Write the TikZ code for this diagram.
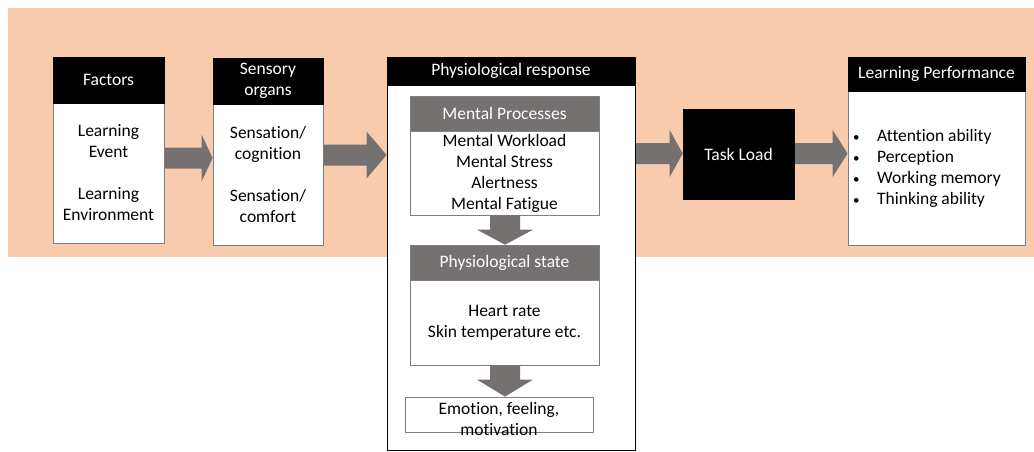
\documentclass[tikz,border=0pt]{standalone}
\usepackage{fontspec}
\setmainfont[Ligatures=NoCommon]{Carlito}
\usetikzlibrary{calc}
\pgfdeclarelayer{bg}
\pgfsetlayers{bg,main}
\definecolor{peach}{HTML}{F8CBAD}
\definecolor{dgray}{HTML}{767171}
\definecolor{edgegray}{HTML}{7F7F7F}
\newcommand\harrow[4]{\fill[fatarrow] let \p1=(#1.east), \p2=(#2.west) in
  (\x1,#3pt+10.5pt) -- (\x2-#4pt,#3pt+10.5pt) -- (\x2-#4pt,#3pt+23.5pt) -- (\x2,#3pt)
  -- (\x2-#4pt,#3pt-23.5pt) -- (\x2-#4pt,#3pt-10.5pt) -- (\x1,#3pt-10.5pt) -- cycle;}
\newcommand\varrow[4]{\fill[fatarrow] let \p1=(#1.south), \p2=(#2.north) in
  (#3pt-15pt,\y1) -- (#3pt-15pt,\y2+#4pt) -- (#3pt-28pt,\y2+#4pt) -- (#3pt,\y2)
  -- (#3pt+28pt,\y2+#4pt) -- (#3pt+15pt,\y2+#4pt) -- (#3pt+15pt,\y1) -- cycle;}
\newcommand\bul{\makebox[24pt][l]{\fontsize{13}{13}\selectfont\raisebox{0.5pt}{•}}}
\begin{document}
\begin{tikzpicture}[x=1pt,y=1pt,
  every node/.style={font=\fontsize{17.5}{21}\selectfont, inner sep=0pt, align=center},
  hdr/.style={fill=black, text=white, draw=black, line width=0.6pt},
  ghdr/.style={fill=dgray, text=white, draw=edgegray, line width=0.6pt},
  body/.style={fill=white, draw=edgegray, line width=0.8pt},
  fatarrow/.style={fill=dgray}]
\useasboundingbox (0,0) rectangle (1034,-452);
% Factors
\node[body, minimum width=111, minimum height=140] (fb) at (108.5,-173) {Learning\\Event\\[21pt]Learning\\Environment};
\node[hdr, minimum width=111, minimum height=46] (fh) at (108.5,-80) {Factors};
% Sensory organs
\node[body, minimum width=110, minimum height=141] (sb) at (268,-174.5) {Sensation/\\cognition\\[21pt]Sensation/\\comfort};
\node[hdr, minimum width=110, minimum height=46] (sh) at (268,-81) {Sensory\\organs};
% Physiological response
\node[body, draw=black, minimum width=248, minimum height=365] (pb) at (511,-267.5) {};
\node[hdr, minimum width=248, minimum height=28] (ph) at (511,-71) {Physiological response};
\node[body, minimum width=189, minimum height=84] (mb) at (504.5,-173) {Mental Workload\\Mental Stress\\Alertness\\Mental Fatigue};
\node[ghdr, minimum width=189, minimum height=35] (mh) at (504.5,-113.5) {Mental Processes};
\node[body, minimum width=189, minimum height=85] (psb) at (504.5,-322.5) {Heart rate\\Skin temperature etc.};
\node[ghdr, minimum width=189, minimum height=35] (psh) at (504.5,-262.5) {Physiological state};
\node[body, minimum width=188, minimum height=35] (em) at (499,-414.5) {};
\node (emt) at (499,-419) {Emotion, feeling,\\motivation};
% Task load
\node[hdr, minimum width=111, minimum height=90] (tl) at (738.5,-154) {Task Load};
% Learning performance
\node[body, minimum width=177, minimum height=154] (lb) at (936.5,-168) {};
\node[hdr, minimum width=177, minimum height=34] (lh) at (936.5,-74) {Learning Performance};
\node[anchor=west, align=left] (lt) at (853,-168.5) {\bul Attention ability\\\bul Perception\\\bul Working memory\\\bul Thinking ability};
% vertical arrows inside the physiological response box
\varrow{mb}{psh}{505}{15}
\varrow{psb}{em}{505}{17}
\begin{pgfonlayer}{bg}
\fill[peach] (8,-8) rectangle (1034,-257);
\harrow{fb}{sb}{-158}{11}
\harrow{sb}{pb}{-155}{20}
\harrow{pb}{tl}{-153.5}{13}
\harrow{tl}{lb}{-153.5}{15}
\end{pgfonlayer}
\end{tikzpicture}
\end{document}
